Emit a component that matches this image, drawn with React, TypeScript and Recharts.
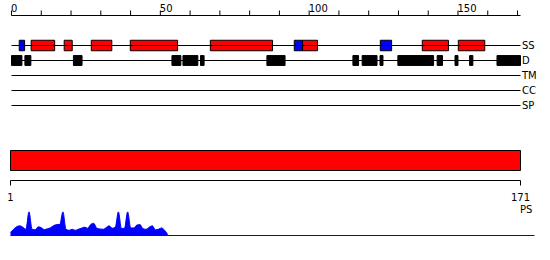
import {
  Area,
  AreaChart,
  Bar,
  BarChart,
  ComposedChart,
  ReferenceArea,
  ReferenceLine,
  Scatter,
  XAxis,
  YAxis,
} from "recharts";

const FONT = "DejaVu Sans";

// feature tracks, top to bottom
const tracks = ["SS", "D", "TM", "CC", "SP"];

const proteinLength = 171;
const positionTicks = [0, 10, 20, 30, 40, 50, 60, 70, 80, 90, 100, 110, 120, 130, 140, 150, 160, 170];
const labelledTicks = [0, 50, 100, 150];

// secondary structure: H = helix (red), E = strand (blue)
const ssSegments = [
  { start: 2.6, end: 4.4, type: "E" },
  { start: 6.6, end: 14.5, type: "H" },
  { start: 17.7, end: 20.4, type: "H" },
  { start: 26.8, end: 33.7, type: "H" },
  { start: 39.9, end: 55.8, type: "H" },
  { start: 66.8, end: 87.7, type: "H" },
  { start: 95, end: 97.8, type: "E" },
  { start: 97.8, end: 102.8, type: "H" },
  { start: 123.9, end: 127.7, type: "E" },
  { start: 138, end: 146.8, type: "H" },
  { start: 150.1, end: 159, type: "H" },
];

// disordered regions
const disorderSegments = [
  { start: 0, end: 3.5 },
  { start: 4.5, end: 6.5 },
  { start: 20.8, end: 23.7 },
  { start: 53.9, end: 56.9 },
  { start: 57.6, end: 62.6 },
  { start: 63.5, end: 64.7 },
  { start: 85.8, end: 91.9 },
  { start: 114.7, end: 116.6 },
  { start: 117.8, end: 122.8 },
  { start: 123.8, end: 124.8 },
  { start: 129.8, end: 141.8 },
  { start: 143, end: 144.8 },
  { start: 149, end: 150 },
  { start: 153.9, end: 155 },
  { start: 163.1, end: 171 },
];

const proteinBar = [{ name: "protein", span: [1, proteinLength] }];
const lengthTicks = [1, proteinLength];

// PS profile, residue 1 onwards
const psScores = [
  3, 6, 8.5, 9.3, 8, 6, 22.7, 6, 5.5, 8.3, 7.5, 5.7, 6.5, 7.5, 9.5, 10.5, 10.7,
  22.7, 6, 5, 6, 5, 6, 7, 8, 7, 10.5, 11.7, 7, 6.3, 6, 7.5, 9.3, 7, 8, 22.7,
  6.7, 7, 22.7, 7.3, 7.3, 10, 10.5, 6.5, 6, 8, 9.3, 5.5, 6, 7.3, 5, 1,
];

const colors: Record<string, string> = { H: "#ff0000", E: "#0000ff" };

const trackY = (name: string) => tracks.indexOf(name) + 2;

const TopTick = (props: any) => {
  const { x, y, payload } = props;
  if (!labelledTicks.includes(payload.value)) return null;
  return (
    <text x={x - 0.5} y={y} dy={1} textAnchor="start" fill="#000" fontSize={10} fontFamily={FONT}>
      {payload.value}
    </text>
  );
};

const LengthTick = (props: any) => {
  const { x, y, payload } = props;
  return (
    <text x={x} y={y} dy={13} textAnchor="middle" fill="#000" fontSize={10} fontFamily={FONT}>
      {payload.value}
    </text>
  );
};

export default function App() {
  const psData = psScores.map((v, i) => ({ pos: i + 1, ps: v }));
  const trackRows = tracks.map((name) => ({ pos: 0, y: trackY(name) }));

  return (
    <div style={{ position: "absolute", left: 0, top: 0, width: 550, height: 260, background: "#fff" }}>
      <div style={{ position: "absolute", left: 0, top: 0 }}>
        <ComposedChart width={550} height={121} data={trackRows} margin={{ top: 0.5, right: 29.5, bottom: 0.5, left: 11.5 }}>
          <XAxis
            dataKey="pos"
            type="number"
            orientation="top"
            domain={[0, proteinLength]}
            allowDataOverflow
            ticks={positionTicks}
            interval={0}
            height={15}
            tickSize={5}
            tickMargin={0}
            stroke="#000"
            tick={<TopTick />}
          />
          <YAxis dataKey="y" type="number" domain={[0, 7]} allowDataOverflow reversed hide />
          <Scatter dataKey="y" fill="none" stroke="none" isAnimationActive={false} />
          {tracks.map((t) => (
            <ReferenceLine
              key={t}
              y={trackY(t)}
              stroke="#000"
              label={{ value: t, position: "right", offset: 1.5, fill: "#000", fontSize: 10, fontFamily: FONT }}
            />
          ))}
          {disorderSegments.map((s, i) => (
            <ReferenceArea
              key={"d" + i}
              x1={s.start}
              x2={s.end}
              y1={trackY("D") - 0.33}
              y2={trackY("D") + 0.33}
              fill="#000"
              fillOpacity={1}
              stroke="#000"
            />
          ))}
          {ssSegments.map((s, i) => (
            <ReferenceArea
              key={"ss" + i}
              x1={s.start}
              x2={s.end}
              y1={trackY("SS") - 0.35}
              y2={trackY("SS") + 0.35}
              fill={colors[s.type]}
              fillOpacity={1}
              stroke="#000"
            />
          ))}
        </ComposedChart>
      </div>

      <div style={{ position: "absolute", left: 0, top: 140 }}>
        <BarChart layout="vertical" width={550} height={66} data={proteinBar} margin={{ top: 0.5, right: 29.5, bottom: 0.5, left: 10.5 }}>
          <XAxis
            type="number"
            domain={[1, proteinLength]}
            ticks={lengthTicks}
            interval={0}
            height={25}
            tickSize={5}
            stroke="#000"
            tick={<LengthTick />}
          />
          <YAxis type="category" dataKey="name" hide />
          <Bar dataKey="span" fill="#ff0000" stroke="#000" barSize={20} isAnimationActive={false} />
        </BarChart>
      </div>

      <div style={{ position: "absolute", left: 0, top: 205 }}>
        <AreaChart width={550} height={32} data={psData} margin={{ top: 4.5, right: 15.5, bottom: 1.5, left: 10.5 }}>
          <XAxis dataKey="pos" type="number" domain={[1, proteinLength]} hide />
          <YAxis domain={[0, 25]} hide />
          <ReferenceLine y={0} stroke="#0000ff" />
          <Area type="monotone" dataKey="ps" stroke="#0000ff" fill="#0000ff" fillOpacity={1} isAnimationActive={false} />
        </AreaChart>
      </div>

      <div
        style={{
          position: "absolute",
          left: 520,
          top: 204,
          fontFamily: FONT,
          fontSize: 10,
          lineHeight: "12px",
          color: "#000",
        }}
      >
        PS
      </div>
    </div>
  );
}
